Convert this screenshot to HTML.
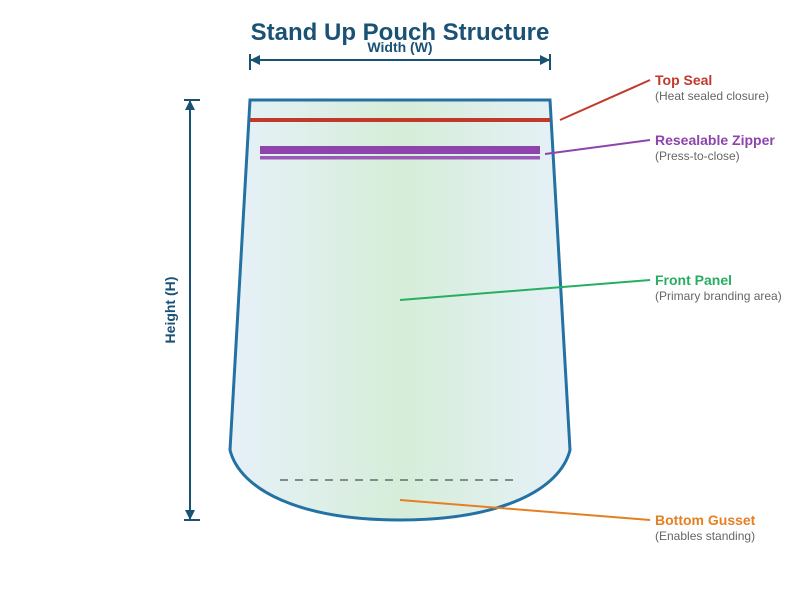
<!DOCTYPE html>
<html><head><meta charset="utf-8"><style>html,body{margin:0;padding:0;background:#fff}svg{display:block}</style></head>
<body>
<svg width="800" height="600" viewBox="0 0 800 600" xmlns="http://www.w3.org/2000/svg" font-family="Liberation Sans, Arial, sans-serif">
<defs>
<linearGradient id="g" x1="0" x2="1" y1="0" y2="0">
<stop offset="0" stop-color="#e6f1f8"/>
<stop offset="0.5" stop-color="#d6edd9"/>
<stop offset="1" stop-color="#e6f1f8"/>
</linearGradient>
</defs>
<text x="400" y="40" text-anchor="middle" font-size="24" font-weight="bold" fill="#1a5276">Stand Up Pouch Structure</text>
<path d="M250,100 L550,100 L570,450 C560,490 500,520 400,520 C300,520 240,490 230,450 Z" fill="url(#g)" stroke="#2471a3" stroke-width="3"/>
<line x1="250" y1="120" x2="550" y2="120" stroke="#c0392b" stroke-width="4"/>
<rect x="260" y="146" width="280" height="8" fill="#8e44ad"/>
<rect x="260" y="156" width="280" height="3.5" fill="#9b59b6"/>
<line x1="280" y1="480" x2="520" y2="480" stroke="#7f8c8d" stroke-width="2" stroke-dasharray="8,7"/>
<!-- width -->
<line x1="250" y1="60" x2="550" y2="60" stroke="#1a5276" stroke-width="2"/>
<line x1="250" y1="54" x2="250" y2="70" stroke="#1a5276" stroke-width="2"/>
<line x1="550" y1="54" x2="550" y2="70" stroke="#1a5276" stroke-width="2"/>
<polygon points="250,60 260,55 260,65" fill="#1a5276"/>
<polygon points="550,60 540,55 540,65" fill="#1a5276"/>
<text x="400" y="52" text-anchor="middle" font-size="14" font-weight="bold" fill="#1a5276">Width (W)</text>
<!-- height -->
<line x1="190" y1="100" x2="190" y2="520" stroke="#1a5276" stroke-width="2"/>
<line x1="184" y1="100" x2="200" y2="100" stroke="#1a5276" stroke-width="2"/>
<line x1="184" y1="520" x2="200" y2="520" stroke="#1a5276" stroke-width="2"/>
<polygon points="190,100 185,110 195,110" fill="#1a5276"/>
<polygon points="190,520 185,510 195,510" fill="#1a5276"/>
<text x="175" y="310" text-anchor="middle" font-size="14" font-weight="bold" fill="#1a5276" transform="rotate(-90 175 310)">Height (H)</text>
<!-- callouts -->
<line x1="560" y1="120" x2="650" y2="80" stroke="#c0392b" stroke-width="2"/>
<text x="655" y="85" font-size="14" font-weight="bold" fill="#c0392b">Top Seal</text>
<text x="655" y="100" font-size="12" fill="#666">(Heat sealed closure)</text>
<line x1="545" y1="154" x2="650" y2="140" stroke="#8e44ad" stroke-width="2"/>
<text x="655" y="145" font-size="14" font-weight="bold" fill="#8e44ad">Resealable Zipper</text>
<text x="655" y="160" font-size="12" fill="#666">(Press-to-close)</text>
<line x1="400" y1="300" x2="650" y2="280" stroke="#27ae60" stroke-width="2"/>
<text x="655" y="285" font-size="14" font-weight="bold" fill="#27ae60">Front Panel</text>
<text x="655" y="300" font-size="12" fill="#666">(Primary branding area)</text>
<line x1="400" y1="500" x2="650" y2="520" stroke="#e67e22" stroke-width="2"/>
<text x="655" y="525" font-size="14" font-weight="bold" fill="#e67e22">Bottom Gusset</text>
<text x="655" y="540" font-size="12" fill="#666">(Enables standing)</text>
</svg>
</body></html>
